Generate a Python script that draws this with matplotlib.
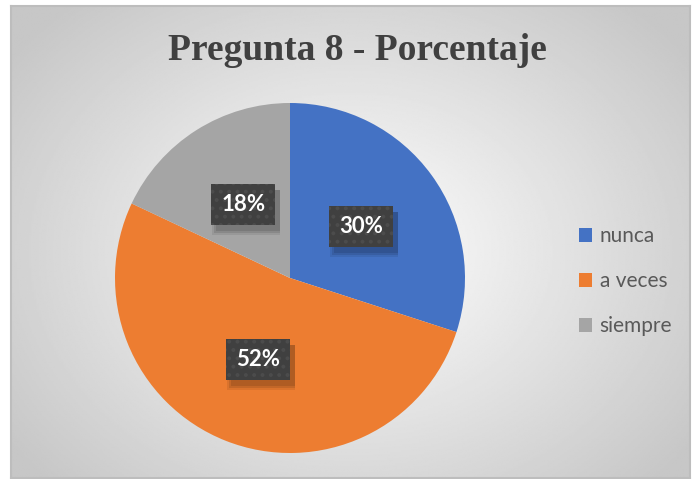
import matplotlib
import matplotlib.pyplot as plt
from matplotlib.patches import Rectangle
from matplotlib.transforms import IdentityTransform
import numpy as np

labels = ["nunca", "a veces", "siempre"]
values = [30, 52, 18]
colors = ["#4472C4", "#ED7D31", "#A5A5A5"]
title = "Pregunta 8 - Porcentaje"

plt.rcParams['hatch.linewidth'] = 1.6

fig = plt.figure(figsize=(6.92, 4.79), dpi=100)

# chart area background: radial gradient with thin border
bg = fig.add_axes([11 / 692, 1 / 479, 679 / 692, 472 / 479])
yy, xx = np.mgrid[0:1:300j, 0:1:400j]
r = np.sqrt(((xx - 0.50) / 0.62) ** 2 + ((yy - 0.52) / 0.70) ** 2)
shade = 1.0 - 0.22 * np.clip(r, 0, 1)
bg.imshow(shade, cmap='gray', vmin=0, vmax=1, extent=[0, 1, 0, 1],
          aspect='auto', origin='upper')
bg.set_xticks([])
bg.set_yticks([])
for s in bg.spines.values():
    s.set_color('#bdbdbd')
    s.set_linewidth(1.5)

fig.text(357 / 692, 1 - 51 / 479, title, ha='center', va='center',
         fontsize=27, fontweight='bold', family='Liberation Serif',
         color='#404040')

ax = fig.add_axes([(290 - 175) / 692, (479 - 278 - 175) / 479,
                   350 / 692, 350 / 479])
ax.set_facecolor('none')
wedges, texts, autotexts = ax.pie(values, colors=colors, startangle=90,
                                  counterclock=False, autopct='%1.0f%%',
                                  pctdistance=0.5, radius=1,
                                  wedgeprops=dict(linewidth=0))
ax.set_xlim(-1, 1)
ax.set_ylim(-1, 1)
ax.set_aspect('auto')

for t in autotexts:
    t.set_fontsize(16)
    t.set_fontweight('bold')
    t.set_family('Lato')
    t.set_color('white')
    t.set_bbox(dict(boxstyle='square,pad=0.45', fc='#404040', ec='#4c4c4c',
                    lw=0, hatch='..'))
    t.set_zorder(5)

leg = fig.legend(wedges, labels, loc='center left',
                 bbox_to_anchor=(560 / 692, 1 - 281 / 479),
                 frameon=False, fontsize=15, handlelength=0.65,
                 handleheight=0.65, handletextpad=0.35, labelspacing=1.2)
for t in leg.get_texts():
    t.set_color('#595959')
    t.set_family('Lato')

# soft shadows under the label boxes
fig.canvas.draw()
for t in autotexts:
    bb = t.get_bbox_patch().get_window_extent()
    for k, a in [(0, 0.10), (2, 0.10), (4, 0.08)]:
        ax.add_patch(Rectangle((bb.x0 + 5 - k, bb.y0 - 6 - k), bb.width + k,
                               bb.height + k, transform=IdentityTransform(),
                               fc='black', ec='none', alpha=a, zorder=4))

fig.savefig('out.png', dpi=100)
